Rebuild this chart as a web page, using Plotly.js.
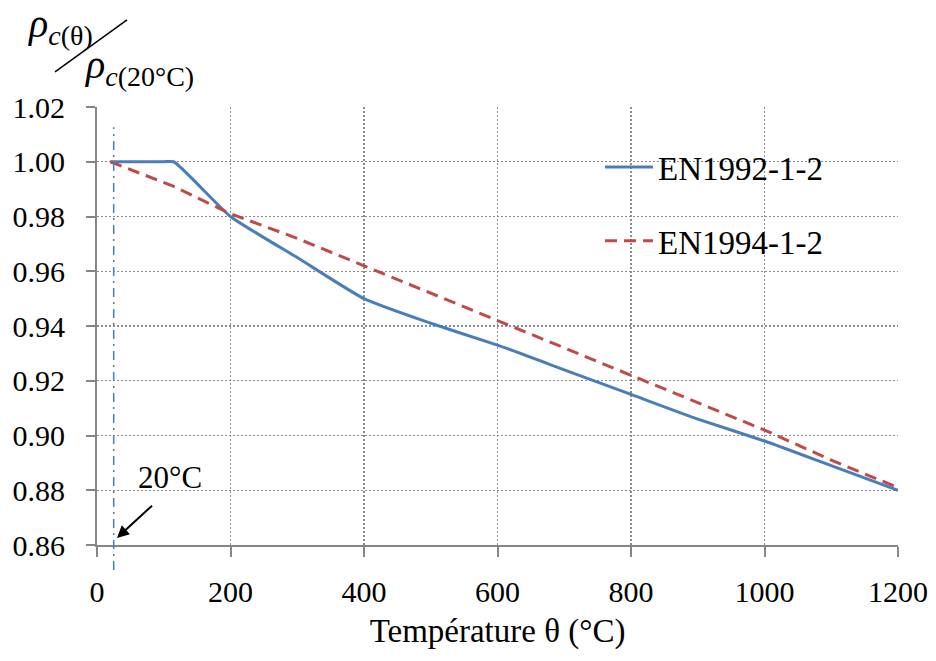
<!DOCTYPE html>
<html>
<head>
<meta charset="utf-8">
<script src="https://cdn.plot.ly/plotly-3.0.1.min.js"></script>
<style>html,body{margin:0;padding:0;background:#fff;}#chart{width:936px;height:661px;}</style>
</head>
<body>
<div id="chart"></div>
<script>
// Data
const tempEN1992 = [20, 100, 115, 200, 300, 400, 500, 600, 700, 800, 900, 1000, 1100, 1200];
const ratioEN1992 = [1.000, 1.000, 1.000, 0.980, 0.965, 0.950, 0.941, 0.933, 0.924, 0.915, 0.906, 0.898, 0.889, 0.880];
const tempEN1994 = [20, 115, 200, 300, 400, 500, 600, 700, 800, 900, 1000, 1100, 1200];
const ratioEN1994 = [1.000, 0.991, 0.981, 0.972, 0.962, 0.952, 0.942, 0.932, 0.922, 0.912, 0.902, 0.891, 0.881];
const seriesNames = ["EN1992-1-2", "EN1994-1-2"];
const refTemp = 25;         // vertical 20°C marker as drawn
const xTicks = [0, 200, 400, 600, 800, 1000, 1200];
const yTicks = [0.86, 0.88, 0.90, 0.92, 0.94, 0.96, 0.98, 1.00, 1.02];

const FONT = "Liberation Serif";

const traces = [
  {x: tempEN1992, y: ratioEN1992, name: seriesNames[0], mode: "lines", legendgroup: "a",
   line: {color: "#4a7ebb", width: 3, shape: "spline", smoothing: 0.5}},
  {x: tempEN1994, y: ratioEN1994, name: seriesNames[1], mode: "lines", legendgroup: "b",
   line: {color: "#be4b48", width: 3, dash: "12px,7px"}}
];

const tickFont = {family: FONT, size: 30, color: "#000"};
const legFont = {family: FONT, size: 33, color: "#000"};

const layout = {
  width: 936, height: 661,
  margin: {l: 97, r: 38, t: 107, b: 116},
  paper_bgcolor: "#fff", plot_bgcolor: "#fff",
  font: {family: FONT, size: 30, color: "#000"},
  showlegend: true,
  legend: {x: 0.628, y: 0.927, xanchor: "left", yanchor: "top", bgcolor: "rgba(0,0,0,0)",
           font: legFont, tracegroupgap: 28, traceorder: "grouped", itemwidth: 48},
  xaxis: {range: [0, 1200], tickvals: xTicks, ticktext: xTicks.map(String), tickfont: tickFont,
          showline: true, linecolor: "#868686", linewidth: 2,
          ticks: "outside", ticklen: 10, tickcolor: "#868686", tickwidth: 2,
          showgrid: true, gridcolor: "#8c8c8c", griddash: "2px,2px", gridwidth: 1.3,
          zeroline: false, ticklabelstandoff: 9,
          title: {text: "Température θ (°C)", font: {family: FONT, size: 33, color: "#000"}, standoff: 12}},
  yaxis: {range: [0.86, 1.02], tickvals: yTicks, ticktext: yTicks.map(v => v.toFixed(2)), tickfont: tickFont,
          showline: true, linecolor: "#868686", linewidth: 2,
          ticks: "outside", ticklen: 9, tickcolor: "#868686", tickwidth: 2,
          showgrid: true, gridcolor: "#8c8c8c", griddash: "2px,2px", gridwidth: 1.3,
          zeroline: false, ticklabelstandoff: 15},
  shapes: [
    {type: "line", xref: "x", yref: "paper", x0: refTemp, x1: refTemp, y0: -0.057, y1: 0.954,
     line: {color: "#4a7ebb", width: 1.5, dash: "9px,5px,2px,5px"}},
    {type: "line", xref: "paper", yref: "paper", x0: -0.0524, y0: 1.08, x1: 0.0375, y1: 1.199,
     line: {color: "#000", width: 1.5}}
  ],
  annotations: [
    {xref: "paper", yref: "paper", x: -0.09, y: 1.185, xanchor: "left", yanchor: "middle", showarrow: false,
     text: "<i>ρ</i><sub><i>c</i>(θ)</sub>", font: {family: FONT, size: 40, color: "#000"}},
    {xref: "paper", yref: "paper", x: -0.019, y: 1.092, xanchor: "left", yanchor: "middle", showarrow: false,
     text: "<i>ρ</i><sub><i>c</i>(20°C)</sub>", font: {family: FONT, size: 40, color: "#000"}},
    {xref: "x", yref: "y", x: 109, y: 0.8845, showarrow: false, text: "20°C",
     font: {family: FONT, size: 31, color: "#000"}},
    {xref: "x", yref: "y", x: 30, y: 0.8626, text: " ", showarrow: true, arrowhead: 2, arrowsize: 1.2,
     arrowwidth: 2, arrowcolor: "#000", ax: 38, ay: -35, font: {family: FONT, size: 10}}
  ]
};

Plotly.newPlot("chart", traces, layout, {displayModeBar: false, staticPlot: true});
</script>
</body>
</html>
